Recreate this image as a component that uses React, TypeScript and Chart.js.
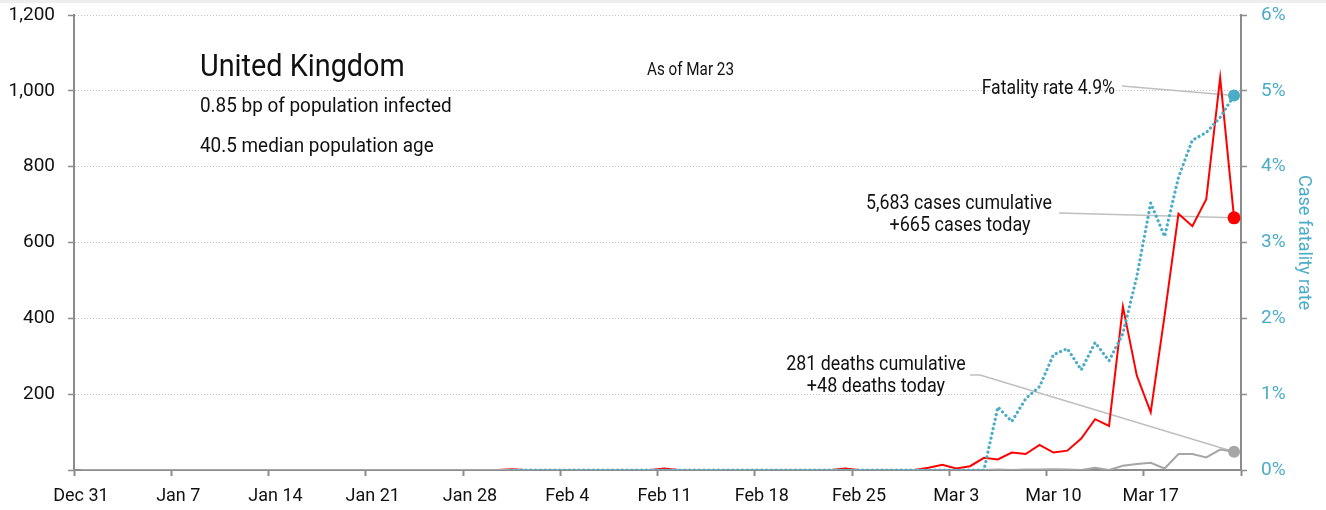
import React, { useEffect, useRef } from 'react';
import { Chart, registerables } from 'chart.js';

Chart.register(...registerables);

const FONT = "Roboto, 'Liberation Sans', sans-serif";

// Day index 0 = Dec 31, one value per day up to Mar 23 (index 83)
const xTickLabels = ['Dec 31', 'Jan 7', 'Jan 14', 'Jan 21', 'Jan 28', 'Feb 4', 'Feb 11', 'Feb 18', 'Feb 25', 'Mar 3', 'Mar 10', 'Mar 17', ''];

const dailyCases = [
  0, 0, 0, 0, 0, 0, 0, // Dec 31 - Jan 6
  0, 0, 0, 0, 0, 0, 0, // Jan 7 - Jan 13
  0, 0, 0, 0, 0, 0, 0, // Jan 14 - Jan 20
  0, 0, 0, 0, 0, 0, 0, // Jan 21 - Jan 27
  0, 0, 0, 2, 0, 0, 0, // Jan 28 - Feb 3
  0, 0, 0, 0, 0, 0, 0, // Feb 4 - Feb 10
  4, 0, 0, 0, 0, 0, 0, // Feb 11 - Feb 17
  0, 0, 0, 0, 0, 0, 4, // Feb 18 - Feb 24
  0, 0, 0, 0, 0, 6, 14, // Feb 25 - Mar 2
  4, 10, 32, 28, 46, 42, 66, // Mar 3 - Mar 9
  46, 51, 83, 134, 116, 431, 249, // Mar 10 - Mar 16
  152, 407, 676, 643, 714, 1035, 665, // Mar 17 - Mar 23
];

const dailyDeaths = [
  0, 0, 0, 0, 0, 0, 0,
  0, 0, 0, 0, 0, 0, 0,
  0, 0, 0, 0, 0, 0, 0,
  0, 0, 0, 0, 0, 0, 0,
  0, 0, 0, 0, 0, 0, 0,
  0, 0, 0, 0, 0, 0, 0,
  0, 0, 0, 0, 0, 0, 0,
  0, 0, 0, 0, 0, 0, 0,
  0, 0, 0, 0, 0, 0, 0,
  0, 0, 0, 1, 0, 1, 1,
  2, 1, 0, 6, 0, 11, 16,
  19, 4, 42, 42, 33, 54, 48,
];

// Case fatality rate, % (cumulative deaths / cumulative cases)
const fatalityRatePct = [
  null, null, null, null, null, null, null,
  null, null, null, null, null, null, null,
  null, null, null, null, null, null, null,
  null, null, null, null, null, null, null,
  null, null, null, 0, 0, 0, 0,
  0, 0, 0, 0, 0, 0, 0,
  0, 0, 0, 0, 0, 0, 0,
  0, 0, 0, 0, 0, 0, 0,
  0, 0, 0, 0, 0, 0, 0,
  0, 0, 0, 0.83, 0.64, 0.94, 1.1,
  1.52, 1.6, 1.32, 1.68, 1.44, 1.8, 2.55,
  3.52, 3.08, 3.86, 4.35, 4.45, 4.65, 4.94,
];

const leftTicks = [0, 200, 400, 600, 800, 1000, 1200];
const rightTicks = [0, 1, 2, 3, 4, 5, 6];

const countryName = 'United Kingdom';
const infoLines = ['0.85 bp of population infected', '40.5 median population age'];
const asOfText = 'As of Mar 23';
const fatalityLabel = 'Fatality rate 4.9%';
const casesLabel = ['5,683 cases cumulative', '+665 cases today'];
const deathsLabel = ['281 deaths cumulative', '+48 deaths today'];

const TEAL = '#4BACC6';
const RED = '#FF0000';
const GREY_LINE = '#A6A6A6';
const AXIS = '#8C8C8C';
const GRID = '#BFBFBF';
const LEADER = '#BFBFBF';
const TEXT = '#111111';

const toPoints = (arr: (number | null)[]) => arr.map((v, i) => ({ x: i + 0.5, y: v }));

function drawText(ctx: CanvasRenderingContext2D, text: string, x: number, y: number, size: number, align: CanvasTextAlign, sx: number) {
  ctx.save();
  ctx.translate(x, y);
  ctx.scale(sx, 1);
  ctx.font = `${size}px ${FONT}`;
  ctx.textAlign = align;
  ctx.textBaseline = 'alphabetic';
  ctx.fillStyle = TEXT;
  ctx.fillText(text, 0, 0);
  ctx.restore();
}

const annotationPlugin = {
  id: 'ukAnnotations',
  beforeDatasetsDraw(chart: any) {
    const { ctx, scales } = chart;
    const { x, y, y1 } = scales;
    const last = dailyCases.length - 1;
    const px = x.getPixelForValue(last + 0.5);
    ctx.save();
    ctx.strokeStyle = LEADER;
    ctx.lineWidth = 1.5;
    ctx.beginPath();
    ctx.moveTo(1122, 86);
    ctx.lineTo(px, y1.getPixelForValue(fatalityRatePct[last] as number));
    ctx.stroke();
    ctx.beginPath();
    ctx.moveTo(1059, 213);
    ctx.lineTo(px, y.getPixelForValue(dailyCases[last]));
    ctx.stroke();
    ctx.beginPath();
    ctx.moveTo(970, 375);
    ctx.lineTo(980, 375);
    ctx.lineTo(px, y.getPixelForValue(dailyDeaths[last]));
    ctx.stroke();
    ctx.restore();
  },
  afterDraw(chart: any) {
    const { ctx } = chart;
    drawText(ctx, countryName, 200, 76, 32, 'left', 0.9);
    drawText(ctx, infoLines[0], 200, 112, 21, 'left', 0.9);
    drawText(ctx, infoLines[1], 200, 152, 21, 'left', 0.9);
    drawText(ctx, asOfText, 647, 75, 17.5, 'left', 0.87);
    drawText(ctx, fatalityLabel, 1115, 94, 20, 'right', 0.88);
    drawText(ctx, casesLabel[0], 959, 209, 20, 'center', 0.89);
    drawText(ctx, casesLabel[1], 960, 231, 20, 'center', 0.9);
    drawText(ctx, deathsLabel[0], 876, 370, 20, 'center', 0.89);
    drawText(ctx, deathsLabel[1], 876, 392, 20, 'center', 0.9);
  },
};

export default function App() {
  const canvasRef = useRef<HTMLCanvasElement | null>(null);

  useEffect(() => {
    const canvas = canvasRef.current;
    if (!canvas) return;
    const lastIdx = dailyCases.length - 1;
    const chart = new Chart(canvas, {
      type: 'line',
      data: {
        datasets: [
          {
            label: 'Case fatality rate',
            data: toPoints(fatalityRatePct),
            yAxisID: 'y1',
            borderColor: TEAL,
            backgroundColor: TEAL,
            borderWidth: 3.2,
            borderDash: [0.01, 4.8],
            borderCapStyle: 'round',
            pointRadius: (c: any) => (c.dataIndex === lastIdx ? 6 : 0),
            pointBackgroundColor: TEAL,
            pointBorderWidth: 0,
            fill: false,
            order: 0,
          },
          {
            label: 'Daily deaths',
            data: toPoints(dailyDeaths),
            yAxisID: 'y',
            borderColor: GREY_LINE,
            backgroundColor: GREY_LINE,
            borderWidth: 2,
            pointRadius: (c: any) => (c.dataIndex === lastIdx ? 6 : 0),
            pointBackgroundColor: GREY_LINE,
            pointBorderWidth: 0,
            fill: false,
            order: 1,
          },
          {
            label: 'Daily cases',
            data: toPoints(dailyCases),
            yAxisID: 'y',
            borderColor: RED,
            backgroundColor: RED,
            borderWidth: 2,
            pointRadius: (c: any) => (c.dataIndex === lastIdx ? 6.5 : 0),
            pointBackgroundColor: RED,
            pointBorderWidth: 0,
            fill: false,
            order: 2,
          },
        ],
      },
      options: {
        responsive: false,
        animation: false,
        layout: { padding: { top: 15, left: 0, right: 0, bottom: 0 } },
        plugins: { legend: { display: false }, tooltip: { enabled: false } },
        scales: {
          x: {
            type: 'linear',
            min: 0,
            max: 84,
            afterBuildTicks: (scale: any) => {
              scale.ticks = xTickLabels.map((_, i) => ({ value: i * 7 }));
            },
            afterFit: (scale: any) => {
              scale.height = 40;
              scale.paddingLeft = 0;
              scale.paddingRight = 0;
            },
            ticks: {
              autoSkip: false,
              maxRotation: 0,
              padding: 10,
              labelOffset: 7,
              color: TEXT,
              font: { family: FONT, size: 18 },
              callback: (v: any) => xTickLabels[Math.round(Number(v) / 7)] ?? '',
            },
            grid: { drawOnChartArea: false, drawTicks: true, tickLength: 6, tickColor: AXIS, tickWidth: 2 },
            border: { display: true, color: AXIS, width: 2 },
          },
          y: {
            type: 'linear',
            position: 'left',
            min: 0,
            max: 1200,
            afterBuildTicks: (scale: any) => {
              scale.ticks = leftTicks.map((v) => ({ value: v }));
            },
            afterFit: (scale: any) => {
              scale.width = 74;
              scale.paddingTop = 0;
              scale.paddingBottom = 0;
            },
            ticks: {
              padding: 13,
              color: TEXT,
              font: { family: FONT, size: 19 },
              callback: (v: any) => (Number(v) === 0 ? '' : Number(v).toLocaleString('en-US')),
            },
            grid: {
              drawOnChartArea: true,
              color: GRID,
              lineWidth: 1,
              drawTicks: true,
              tickLength: 6,
              tickColor: AXIS,
              tickWidth: 1.5,
              tickBorderDash: [],
            },
            border: { display: true, color: AXIS, width: 2, dash: [1, 2] },
          },
          y1: {
            type: 'linear',
            position: 'right',
            min: 0,
            max: 6,
            afterBuildTicks: (scale: any) => {
              scale.ticks = rightTicks.map((v) => ({ value: v }));
            },
            afterFit: (scale: any) => {
              scale.width = 85;
              scale.paddingTop = 0;
              scale.paddingBottom = 0;
            },
            ticks: {
              padding: 14,
              color: TEAL,
              font: { family: FONT, size: 19 },
              callback: (v: any) => `${v}%`,
            },
            title: {
              display: true,
              text: 'Case fatality rate',
              color: TEAL,
              font: { family: FONT, size: 18 },
              padding: { top: 12, bottom: 0 },
            },
            grid: { drawOnChartArea: false, drawTicks: true, tickLength: 6, tickColor: AXIS, tickWidth: 1.5 },
            border: { display: true, color: AXIS, width: 2 },
          },
        },
      },
      plugins: [annotationPlugin],
    } as any);
    return () => chart.destroy();
  }, []);

  return (
    <div style={{ position: 'fixed', left: 0, top: 0, width: 1326, height: 510, background: '#ffffff' }}>
      <canvas ref={canvasRef} width={1326} height={510} style={{ width: 1326, height: 510, display: 'block' }} />
      <div style={{ position: 'absolute', left: 0, top: 0, width: 1326, height: 3, background: '#EEEEEE' }} />
    </div>
  );
}
